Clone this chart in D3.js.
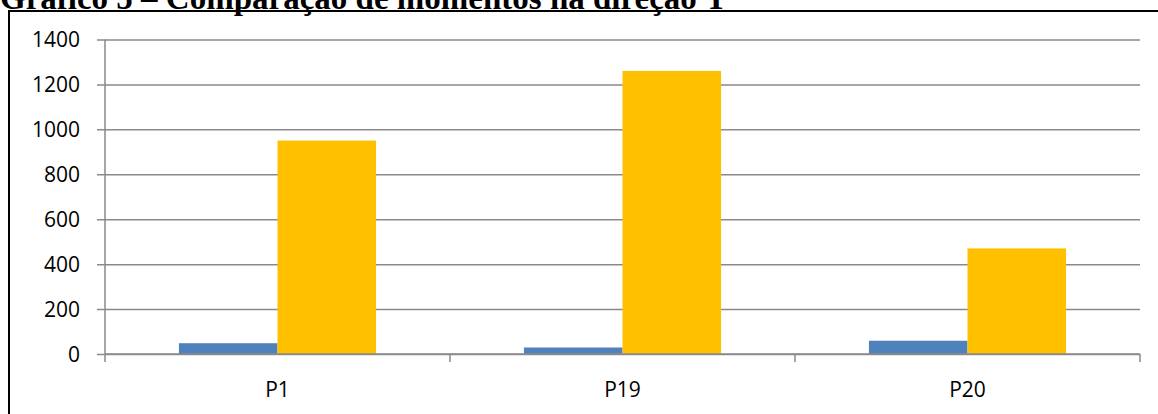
<!DOCTYPE html>
<html>
<head>
<meta charset="utf-8">
<script src="https://cdn.jsdelivr.net/npm/d3@7"></script>
<style>
  html, body { margin: 0; padding: 0; background: #fff; }
  svg { display: block; }
</style>
</head>
<body>
<svg id="chart" width="1158" height="414"></svg>
<script>
// Momentos na direção Y por pilar
const categories = ["P1", "P19", "P20"];
const seriesNames = ["Série 1", "Série 2"];
const seriesA = [48, 29, 59];
const seriesB = [950, 1260, 470];
const yTicks = [0, 200, 400, 600, 800, 1000, 1200, 1400];
const colors = ["#4f81bd", "#ffc000"];
const titleText = "Gráfico 5 – Comparação de momentos na direção Y";

const svg = d3.select("#chart");
const plotLeft = 105, plotRight = 1140, plotTop = 39.5, plotBottom = 354;

// Title (partially cropped at the top edge)
svg.append("text")
  .attr("x", 0).attr("y", 9)
  .attr("font-family", "'Liberation Serif', 'Times New Roman', serif")
  .attr("font-weight", "bold")
  .attr("font-size", 33)
  .attr("fill", "#000")
  .text(titleText);

// Chart frame
svg.append("rect")
  .attr("x", 9).attr("y", 11)
  .attr("width", 1200).attr("height", 500)
  .attr("fill", "none").attr("stroke", "#000").attr("stroke-width", 2);

const x0 = d3.scaleBand().domain(categories).range([plotLeft, plotRight]).padding(0);
const x1 = d3.scaleBand().domain(seriesNames).range([0, x0.bandwidth()])
  .paddingInner(0).paddingOuter(0.75);
const y = d3.scaleLinear().domain([0, 1400]).range([plotBottom, plotTop]);

const grid = "#8a8a8a";
const fontFam = "'Open Sans', 'Liberation Sans', sans-serif";

// Horizontal gridlines with outward ticks
const yAxis = d3.axisLeft(y).tickValues(yTicks).tickSize(-(plotRight - plotLeft)).tickPadding(0).tickFormat(d3.format("d"));
const gy = svg.append("g").attr("transform", `translate(${plotLeft},0)`).call(yAxis);
gy.select(".domain").remove();
gy.selectAll(".tick line")
  .attr("x1", -8)
  .attr("stroke", grid).attr("stroke-width", 1.5);
gy.selectAll(".tick text")
  .attr("x", -25)
  .attr("dy", "0.35em")
  .attr("font-family", fontFam)
  .attr("font-size", 21)
  .attr("fill", "#000");

// Bars
const data = categories.map((c, i) => ({ cat: c, vals: [seriesA[i], seriesB[i]] }));
const groups = svg.append("g").selectAll("g").data(data).join("g")
  .attr("transform", d => `translate(${x0(d.cat)},0)`);
groups.selectAll("rect")
  .data(d => d.vals.map((v, k) => ({ name: seriesNames[k], v, k })))
  .join("rect")
  .attr("x", d => x1(d.name))
  .attr("width", x1.bandwidth())
  .attr("y", d => y(d.v))
  .attr("height", d => y(0) - y(d.v))
  .attr("fill", d => colors[d.k]);

// Y axis line
svg.append("line")
  .attr("x1", plotLeft).attr("x2", plotLeft)
  .attr("y1", y(1400)).attr("y2", plotBottom + 8)
  .attr("stroke", grid).attr("stroke-width", 1.5);

// X axis with category boundary ticks
const gx = svg.append("g").attr("transform", `translate(0,${plotBottom})`);
gx.append("line")
  .attr("x1", plotLeft).attr("x2", plotRight)
  .attr("stroke", grid).attr("stroke-width", 1.5);
const bounds = categories.map(c => x0(c) + x0.bandwidth());
gx.selectAll("line.tk").data(bounds).join("line")
  .attr("class", "tk")
  .attr("x1", d => d).attr("x2", d => d)
  .attr("y1", 0).attr("y2", 8)
  .attr("stroke", grid).attr("stroke-width", 1.5);
gx.selectAll("text").data(categories).join("text")
  .attr("x", d => x0(d) + x0.bandwidth() / 2)
  .attr("y", 43)
  .attr("text-anchor", "middle")
  .attr("font-family", fontFam)
  .attr("font-size", 21)
  .attr("fill", "#000")
  .text(d => d);
</script>
</body>
</html>
